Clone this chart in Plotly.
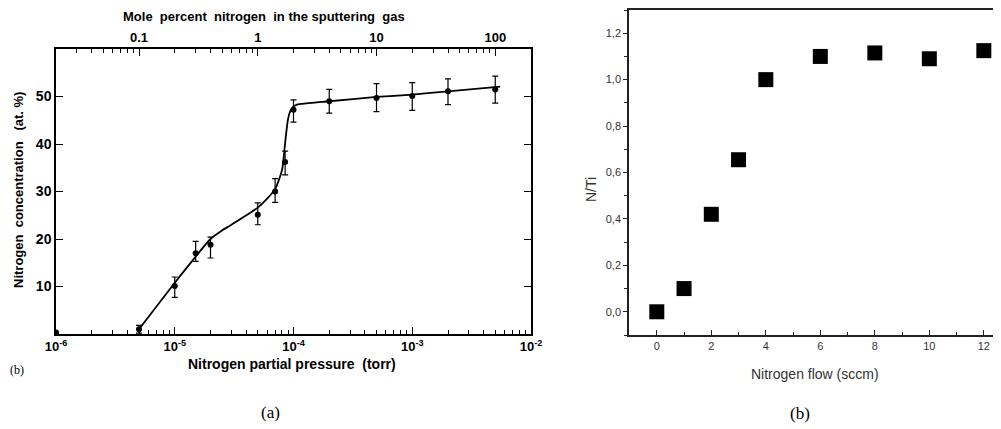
import plotly.graph_objects as go

# ── Data: (a) nitrogen concentration vs partial pressure ─────
pressure = [1e-6, 5e-6, 1e-5, 1.5e-5, 2e-5, 5e-5, 7e-5, 8.5e-5, 1e-4, 2e-4, 5e-4, 1e-3, 2e-3, 5e-3]
conc = [0.3, 1.0, 10.1, 17.0, 18.8, 25.1, 30.0, 36.2, 47.2, 49.0, 49.7, 50.1, 51.1, 51.5]
err_up = [0, 0.8, 1.9, 2.5, 1.6, 2.5, 2.7, 2.3, 2.1, 2.5, 3.0, 2.8, 2.6, 2.8]
err_down = [0, 0.8, 2.4, 1.7, 2.8, 2.1, 2.3, 2.7, 2.6, 2.5, 2.9, 3.0, 2.8, 2.9]

# hand-drawn fit curve
curve_p = [5e-6, 1e-5, 1.5e-5, 2e-5, 2.5e-5, 3e-5, 5e-5, 6e-5, 7e-5, 8e-5, 8.6e-5, 9e-5,
           9.4e-5, 1e-4, 1.07e-4, 2e-4, 5e-4, 1e-3, 2e-3, 5.5e-3]
curve_n = [1.0, 10.8, 16.3, 20.0, 21.8, 23.0, 26.6, 28.5, 30.5, 34.5, 41.4, 45.3,
           46.9, 47.9, 48.3, 49.0, 49.9, 50.4, 51.1, 52.1]

bottom_ticks = [1e-6, 1e-5, 1e-4, 1e-3, 1e-2]
bottom_labels = ["<b>10<sup>-6</sup></b>", "<b>10<sup>-5</sup></b>", "<b>10<sup>-4</sup></b>",
                 "<b>10<sup>-3</sup></b>", "<b>10<sup>-2</sup></b>"]
top_ticks = [0.1, 1, 10, 100]
top_labels = ["<b>0.1</b>", "<b>1</b>", "<b>10</b>", "<b>100</b>"]
conc_ticks = [10, 20, 30, 40, 50]
conc_labels = ["<b>10</b>", "<b>20</b>", "<b>30</b>", "<b>40</b>", "<b>50</b>"]

# ── Data: (b) N/Ti ratio vs nitrogen flow ─────────────────────
flow = [0, 1, 2, 3, 4, 6, 8, 10, 12]
n_ti = [0.0, 0.10, 0.42, 0.655, 1.0, 1.10, 1.115, 1.09, 1.125]
nti_ticks = [0.0, 0.2, 0.4, 0.6, 0.8, 1.0, 1.2]
nti_labels = ["0,0", "0,2", "0,4", "0,6", "0,8", "1,0", "1,2"]
flow_ticks = [0, 2, 4, 6, 8, 10, 12]

W, H = 1001, 429
PAGE_OFFSET = 8  # default body margin of the page around the plot


def px(x):
    return (x - PAGE_OFFSET) / W


def py(y):
    return (H - (y - PAGE_OFFSET)) / H


def minor_log(lo, hi):
    vals = []
    d = lo
    while d < hi:
        vals += [d * k for k in range(2, 10)]
        d *= 10
    return vals


SANS = "Liberation Sans, Arial, sans-serif"
SERIF = "Liberation Serif, Times New Roman, serif"
BOLD = dict(family=SANS, color="black")
PLAIN = dict(family=SANS, color="#333333")

fig = go.Figure()

fig.add_trace(go.Scatter(
    x=curve_p, y=curve_n, mode="lines",
    line=dict(color="black", width=1.8, shape="spline", smoothing=0.6),
    xaxis="x", yaxis="y", hoverinfo="skip",
))
fig.add_trace(go.Scatter(
    x=pressure, y=conc, mode="markers",
    marker=dict(color="black", size=6),
    error_y=dict(type="data", array=err_up, arrayminus=err_down,
                 color="black", thickness=1.2, width=3),
    xaxis="x", yaxis="y",
))
# invisible trace so the top (mole percent) axis is drawn
fig.add_trace(go.Scatter(
    x=[1], y=[30], mode="markers", marker=dict(opacity=0),
    xaxis="x2", yaxis="y", hoverinfo="skip",
))
fig.add_trace(go.Scatter(
    x=flow, y=n_ti, mode="markers",
    marker=dict(symbol="square", color="black", size=15),
    xaxis="x3", yaxis="y3",
))

fig.update_layout(
    width=W, height=H,
    margin=dict(l=0, r=0, t=0, b=0, autoexpand=False),
    paper_bgcolor="white",
    plot_bgcolor="white",
    showlegend=False,
    xaxis=dict(
        type="log", range=[-6, -2], domain=[px(56), px(531)], anchor="y",
        showline=True, linecolor="black", linewidth=1.5, showgrid=False, zeroline=False,
        ticks="inside", ticklen=7, tickwidth=1.2, tickcolor="black",
        tickvals=bottom_ticks, ticktext=bottom_labels,
        tickfont=dict(size=13, **BOLD),
        minor=dict(ticks="inside", ticklen=4, tickwidth=1, tickcolor="black",
                   tickvals=minor_log(1e-6, 1e-2), showgrid=False),
    ),
    xaxis2=dict(
        type="log", range=[-1.699, 2.301], overlaying="x", side="top", anchor="y",
        showline=True, linecolor="black", linewidth=1.5, showgrid=False, zeroline=False,
        ticks="inside", ticklen=7, tickwidth=1.2, tickcolor="black",
        tickvals=top_ticks, ticktext=top_labels,
        tickfont=dict(size=13, **BOLD),
        minor=dict(ticks="inside", ticklen=4, tickwidth=1, tickcolor="black",
                   tickvals=minor_log(0.01, 100), showgrid=False),
    ),
    yaxis=dict(
        range=[0, 60], domain=[py(334), py(49)], anchor="x",
        showline=True, linecolor="black", linewidth=1.5, mirror="ticks",
        showgrid=False, zeroline=False,
        ticks="inside", ticklen=7, tickwidth=1.2, tickcolor="black",
        tickvals=conc_ticks, ticktext=conc_labels, tickfont=dict(size=14, **BOLD),
    ),
    xaxis3=dict(
        range=[-1.02, 12.63], domain=[px(629), px(1001)], anchor="y3",
        showline=True, linecolor="#222222", linewidth=1.5, mirror=True,
        showgrid=False, zeroline=False,
        ticks="inside", ticklen=5, tickwidth=1, tickcolor="#222222",
        tickvals=flow_ticks, tickfont=dict(size=11, **PLAIN),
        minor=dict(ticks="inside", ticklen=3, tickcolor="#222222", dtick=1, showgrid=False),
    ),
    yaxis3=dict(
        range=[-0.1, 1.3], domain=[py(335), py(10)], anchor="x3",
        showline=True, linecolor="#222222", linewidth=1.5,
        showgrid=False, zeroline=False,
        ticks="outside", ticklen=4, tickwidth=1, tickcolor="#222222",
        tickvals=nti_ticks, ticktext=nti_labels, tickfont=dict(size=11, **PLAIN),
        minor=dict(ticks="outside", ticklen=3, tickcolor="#222222", dtick=0.1, showgrid=False),
    ),
)

annotations = [
    dict(text="<b>Mole  percent  nitrogen  in the sputtering  gas</b>", x=px(264), y=py(16),
         font=dict(size=13, **BOLD)),
    dict(text="<b>Nitrogen partial pressure  (torr)</b>", x=px(292), y=py(364),
         font=dict(size=14, **BOLD)),
    dict(text="<b>Nitrogen  concentration   (at. %)</b>", x=px(19), y=py(190), textangle=-90,
         font=dict(size=13, **BOLD)),
    dict(text="(b)", x=px(17), y=py(370), font=dict(size=12, family=SERIF, color="black")),
    dict(text="(a)", x=px(270), y=py(412), font=dict(size=17, family=SERIF, color="black")),
    dict(text="N/Ti", x=px(591), y=py(190), textangle=-90, font=dict(size=14, **PLAIN)),
    dict(text="Nitrogen flow (sccm)", x=px(815), y=py(374), font=dict(size=14, **PLAIN)),
    dict(text="(b)", x=px(800), y=py(413), font=dict(size=17, family=SERIF, color="black")),
]
for a in annotations:
    fig.add_annotation(xref="paper", yref="paper", showarrow=False,
                       xanchor="center", yanchor="middle", **a)

fig.write_html("out.html")
